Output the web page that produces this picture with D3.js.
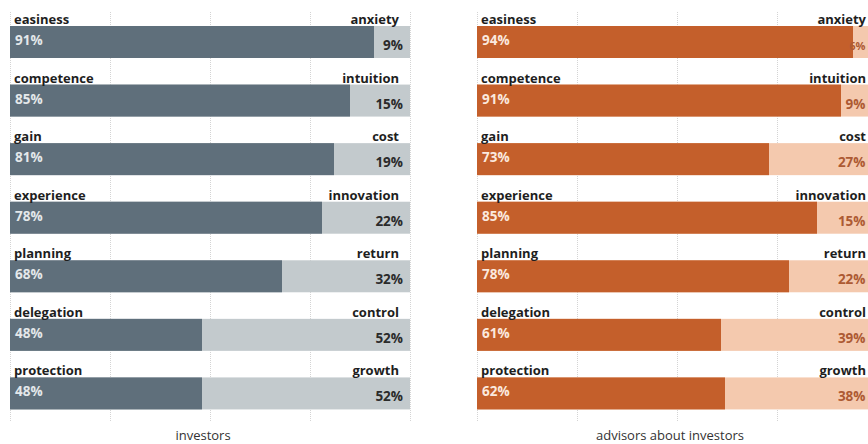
<!DOCTYPE html>
<html>
<head>
<meta charset="utf-8">
<script src="https://cdn.jsdelivr.net/npm/d3@7"></script>
<style>
  body { margin: 0; background: #fff; }
  svg { display: block; font-family: "Open Sans", "Noto Sans", sans-serif; }
</style>
</head>
<body>
<svg id="chart" width="868" height="444"></svg>
<script>
// categories (left / right words of each pair)
const leftInvestors = ["easiness", "competence", "gain", "experience", "planning", "delegation", "protection"];
const rightInvestors = ["anxiety", "intuition", "cost", "innovation", "return", "control", "growth"];
const valuesInvestors = [91, 85, 81, 78, 68, 48, 48];

const leftAdvisors = ["easiness", "competence", "gain", "experience", "planning", "delegation", "protection"];
const rightAdvisors = ["anxiety", "intuition", "cost", "innovation", "return", "control", "growth"];
const valuesAdvisors = [94, 91, 73, 85, 78, 61, 62];

const gridTicks = [0, 25, 50, 75, 100];

const panels = [
  { title: "investors", left: leftInvestors, right: rightInvestors, values: valuesInvestors,
    x0: 10, dark: "#5f6f7b", light: "#c3cacd", leftText: "#e4e8ea", rightText: "#2b2b2b" },
  { title: "advisors about investors", left: leftAdvisors, right: rightAdvisors, values: valuesAdvisors,
    x0: 477, dark: "#c45f2b", light: "#f4c9ae", leftText: "#fbe9de", rightText: "#ad5a33" }
];

const svg = d3.select("#chart");
const W = 868;
const panelWidth = 400;
const gridTop = 12, gridBottom = 422;

panels.forEach(p => {
  const rows = p.left.map((d, i) => ({ left: d, right: p.right[i], value: p.values[i], i }));

  const x = d3.scaleLinear().domain([0, 100]).range([p.x0, p.x0 + panelWidth]);
  const y = d3.scaleBand().domain(d3.range(rows.length)).range([gridTop, gridBottom]);

  // keep right-hand texts inside the page
  const labelRight = Math.min(x(100) - 11, W - 2);
  const valueRight = Math.min(x(100) - 7, W - 2.5);

  const g = svg.append("g");

  // dotted grid
  g.selectAll("line.grid")
    .data(gridTicks)
    .enter()
    .append("line")
    .attr("x1", d => x(d) + 0.5)
    .attr("x2", d => x(d) + 0.5)
    .attr("y1", gridTop)
    .attr("y2", gridBottom)
    .attr("stroke", "#d4d4d4")
    .attr("stroke-width", 1)
    .attr("stroke-dasharray", "1,1");

  const row = g.selectAll("g.row")
    .data(rows)
    .enter()
    .append("g")
    .attr("class", "row")
    .attr("transform", d => `translate(0,${y(d.i)})`);

  // background (opposite share)
  row.append("rect")
    .attr("x", x(0))
    .attr("y", 14)
    .attr("width", x(100) - x(0))
    .attr("height", 32)
    .attr("fill", p.light);

  row.append("rect")
    .attr("x", x(0))
    .attr("y", 14)
    .attr("width", d => x(d.value) - x(0))
    .attr("height", 32)
    .attr("fill", p.dark);

  row.append("text")
    .attr("x", x(0) + 4)
    .attr("y", 12)
    .style("font-size", "13px")
    .style("font-weight", "700")
    .attr("fill", "#1e1e1e")
    .text(d => d.left);

  row.append("text")
    .attr("x", labelRight)
    .attr("y", 12)
    .attr("text-anchor", "end")
    .style("font-size", "13px")
    .style("font-weight", "700")
    .attr("fill", "#1e1e1e")
    .text(d => d.right);

  row.append("text")
    .attr("x", x(0) + 5)
    .attr("y", 33)
    .style("font-size", "13.5px")
    .style("font-weight", "700")
    .attr("fill", p.leftText)
    .text(d => d.value + "%");

  row.append("text")
    .attr("x", valueRight)
    .attr("y", 38)
    .attr("text-anchor", "end")
    .style("font-size", "13.5px")
    .style("font-weight", "700")
    .attr("fill", p.rightText)
    .text(d => (100 - d.value) + "%")
    .each(function (d) {
      // shrink (not below 11px) when the light segment is too narrow
      const room = valueRight - (x(d.value) + 1.5);
      const len = this.getComputedTextLength();
      if (len > room) {
        const size = Math.max(11, 13.5 * room / len);
        d3.select(this).style("font-size", size.toFixed(1) + "px");
      }
    });

  g.append("text")
    .attr("x", x(50) - 7)
    .attr("y", 440)
    .attr("text-anchor", "middle")
    .style("font-size", "13px")
    .attr("fill", "#333")
    .text(p.title);
});
</script>
</body>
</html>
